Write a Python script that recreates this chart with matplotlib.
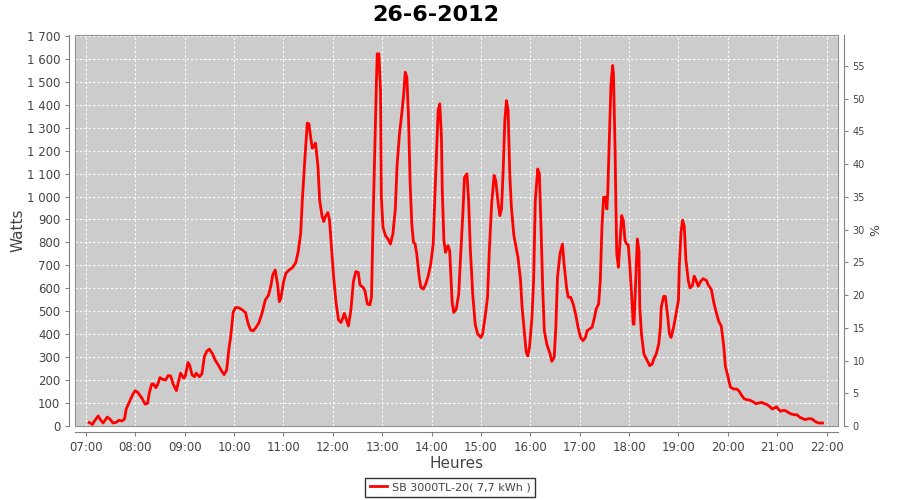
import matplotlib
matplotlib.use("Agg")
import matplotlib.pyplot as plt
from matplotlib.patches import Rectangle
from matplotlib.ticker import FuncFormatter

# ── data (time of day, watts) ────────────────────────────────────────────────
times = [
    "07:04", "07:08", "07:10", "07:15", "07:18", "07:21", "07:26", "07:29", "07:33", "07:37",
    "07:40", "07:44", "07:47", "07:49", "07:53", "07:57", "08:00", "08:03", "08:08", "08:12",
    "08:15", "08:17", "08:20", "08:22", "08:25", "08:27", "08:30", "08:33", "08:37", "08:40",
    "08:43", "08:46", "08:50", "08:52", "08:55", "08:59", "09:01", "09:04", "09:06", "09:09",
    "09:12", "09:14", "09:18", "09:21", "09:24", "09:27", "09:30", "09:34", "09:37", "09:41",
    "09:45", "09:48", "09:51", "09:54", "09:56", "09:59", "10:02", "10:06", "10:10", "10:14",
    "10:17", "10:20", "10:23", "10:26", "10:30", "10:34", "10:38", "10:42", "10:45", "10:47",
    "10:50", "10:53", "10:55", "10:57", "11:00", "11:03", "11:07", "11:11", "11:15", "11:18",
    "11:21", "11:23", "11:26", "11:29", "11:31", "11:33", "11:35", "11:37", "11:39", "11:42",
    "11:44", "11:47", "11:49", "11:51", "11:54", "11:56", "11:58", "12:01", "12:04", "12:07",
    "12:10", "12:12", "12:14", "12:16", "12:19", "12:22", "12:25", "12:28", "12:31", "12:33",
    "12:37", "12:39", "12:42", "12:45", "12:47", "12:49", "12:51", "12:53", "12:54", "12:56",
    "12:58", "12:59", "13:01", "13:04", "13:07", "13:10", "13:13", "13:16", "13:18", "13:21",
    "13:24", "13:26", "13:28", "13:30", "13:32", "13:34", "13:36", "13:38", "13:40", "13:42",
    "13:45", "13:47", "13:50", "13:53", "13:56", "13:59", "14:02", "14:04", "14:06", "14:08",
    "14:10", "14:12", "14:13", "14:15", "14:17", "14:20", "14:22", "14:23", "14:25", "14:27",
    "14:30", "14:33", "14:35", "14:38", "14:40", "14:43", "14:45", "14:47", "14:50", "14:53",
    "14:56", "15:00", "15:02", "15:05", "15:08", "15:10", "15:13", "15:16", "15:18", "15:21",
    "15:23", "15:25", "15:27", "15:29", "15:31", "15:33", "15:35", "15:37", "15:40", "15:42",
    "15:45", "15:48", "15:50", "15:53", "15:55", "15:57", "15:59", "16:02", "16:04", "16:06",
    "16:09", "16:11", "16:13", "16:15", "16:17", "16:20", "16:24", "16:26", "16:29", "16:31",
    "16:33", "16:36", "16:39", "16:41", "16:44", "16:46", "16:49", "16:52", "16:55", "16:58",
    "17:01", "17:04", "17:07", "17:09", "17:12", "17:15", "17:18", "17:20", "17:23", "17:25",
    "17:27", "17:29", "17:31", "17:33", "17:34", "17:36", "17:38", "17:40", "17:41", "17:43",
    "17:44", "17:45", "17:47", "17:49", "17:51", "17:53", "17:55", "17:57", "17:59", "18:01",
    "18:03", "18:05", "18:06", "18:08", "18:10", "18:12", "18:13", "18:15", "18:18", "18:21",
    "18:25", "18:28", "18:30", "18:33", "18:36", "18:38", "18:39", "18:42", "18:44", "18:47",
    "18:49", "18:51", "18:54", "18:57", "19:00", "19:01", "19:03", "19:05", "19:07", "19:09",
    "19:12", "19:14", "19:17", "19:19", "19:21", "19:24", "19:27", "19:30", "19:34", "19:36",
    "19:40", "19:43", "19:46", "19:49", "19:52", "19:55", "19:57", "20:00", "20:03", "20:07",
    "20:11", "20:14", "20:17", "20:20", "20:23", "20:27", "20:31", "20:34", "20:37", "20:41",
    "20:45", "20:48", "20:51", "20:54", "20:57", "20:59", "21:02", "21:04", "21:07", "21:10",
    "21:13", "21:17", "21:21", "21:24", "21:27", "21:31", "21:34", "21:38", "21:42", "21:46",
    "21:50", "21:55",
]
watts = [
    15, 7, 19, 44, 26, 13, 39, 31, 13, 16,
    25, 22, 31, 74, 106, 138, 154, 147, 122, 95,
    99, 143, 183, 183, 167, 179, 211, 204, 201, 220,
    218, 183, 154, 186, 230, 208, 220, 277, 266, 223,
    215, 230, 215, 227, 303, 326, 335, 314, 288, 265,
    239, 224, 243, 342, 390, 497, 517, 515, 506, 494,
    448, 419, 414, 426, 448, 491, 549, 571, 615, 658,
    680, 615, 542, 557, 625, 666, 680, 690, 712, 760,
    840, 985, 1160, 1320, 1317, 1262, 1211, 1218, 1233, 1131,
    985, 913, 891, 913, 930, 898, 797, 651, 535, 462,
    451, 469, 491, 469, 436, 506, 629, 673, 669, 615,
    603, 590, 532, 528, 560, 900, 1203, 1500, 1622, 1622,
    1462, 997, 866, 830, 815, 793, 837, 946, 1128, 1273,
    1367, 1440, 1542, 1520, 1346, 1055, 881, 801, 793, 750,
    648, 604, 597, 619, 655, 706, 793, 997, 1186, 1375,
    1404, 1258, 1026, 808, 757, 786, 764, 692, 539, 495,
    510, 575, 721, 924, 1084, 1099, 983, 779, 575, 444,
    401, 386, 401, 474, 561, 750, 968, 1092, 1070, 968,
    917, 946, 1113, 1331, 1418, 1375, 1099, 953, 830, 793,
    735, 640, 517, 401, 321, 306, 343, 474, 633, 982,
    1120, 1099, 866, 604, 415, 357, 314, 282, 299, 430,
    648, 750, 793, 706, 604, 561, 561, 532, 488, 430,
    386, 372, 386, 415, 423, 430, 474, 510, 532, 633,
    866, 997, 997, 946, 1012, 1244, 1491, 1571, 1535, 1200,
    953, 750, 692, 808, 917, 895, 808, 793, 790, 692,
    575, 444, 444, 633, 815, 764, 517, 401, 314, 292,
    263, 270, 292, 314, 357, 430, 517, 565, 565, 474,
    401, 386, 430, 488, 550, 696, 842, 897, 871, 725,
    631, 602, 612, 653, 638, 609, 631, 642, 634, 616,
    594, 536, 493, 456, 435, 347, 260, 217, 170, 161,
    161, 150, 132, 118, 115, 112, 105, 97, 100, 103,
    97, 92, 84, 74, 79, 84, 71, 64, 68, 67,
    60, 52, 49, 49, 39, 32, 28, 32, 31, 20,
    13, 13,
]
hour_ticks = list(range(7, 23))
watt_ticks = list(range(0, 1701, 100))
pct_ticks = list(range(0, 56, 5))
title = "26-6-2012"
series_label = "SB 3000TL-20( 7,7 kWh )"

hours = [int(t[:2]) + int(t[3:]) / 60 for t in times]

TXT = "#444444"
plt.rcParams["font.family"] = ["DejaVu Sans"]

fig = plt.figure(figsize=(9, 5), dpi=100)
fig.patch.set_facecolor("white")
ax = fig.add_axes([75 / 900, 74 / 500, 763 / 900, 391 / 500])
ax.set_facecolor("#cccccc")

ax.plot(hours, watts, color="#ff0000", lw=2.0, solid_joinstyle="round", label=series_label)

ax.set_xlim(6.78, 22.23)
ax.set_ylim(0, 1704)
ax.set_xticks(hour_ticks)
ax.set_xticklabels([f"{h:02d}:00" for h in hour_ticks])
ax.set_yticks(watt_ticks)
ax.yaxis.set_major_formatter(FuncFormatter(lambda v, p: f"{v:,.0f}".replace(",", " ")))
ax.grid(True, color="white", ls=(0, (2, 2)), lw=0.8)
ax.set_axisbelow(True)

for side in ("left", "bottom"):
    ax.spines[side].set_position(("outward", 4))
    ax.spines[side].set_color("#808080")
ax.spines["top"].set_visible(False)
ax.spines["right"].set_visible(False)
ax.add_patch(Rectangle((0, 0), 1, 1, transform=ax.transAxes, fill=False,
                       edgecolor="#909090", lw=0.8, clip_on=False))
ax.tick_params(axis="both", colors="#808080", labelcolor=TXT, labelsize=8.5, length=3)

ax.set_ylabel("Watts", fontsize=11, color=TXT, labelpad=1)
ax.set_xlabel("Heures", fontsize=11, color=TXT, labelpad=2)
fig.text(436 / 900, 1 - 15 / 500, title, ha="center", va="center",
         fontsize=16, fontweight="bold", color="black")

ax2 = ax.twinx()
ax2.set_ylim(0, 59.74)
ax2.set_yticks(pct_ticks)
ax2.spines["right"].set_position(("outward", 4))
ax2.spines["right"].set_color("#808080")
for side in ("left", "top", "bottom"):
    ax2.spines[side].set_visible(False)
ax2.tick_params(axis="y", colors="#808080", labelcolor=TXT, labelsize=7, length=3)
ax2.set_ylabel("%", fontsize=9, color=TXT, labelpad=3)

leg = fig.legend(loc="lower center", bbox_to_anchor=(0.5, 0.0), fontsize=8,
                 frameon=True, fancybox=False, handlelength=1.6, handletextpad=0.4,
                 borderpad=0.4, borderaxespad=0.3)
leg.get_frame().set_edgecolor("black")
leg.get_frame().set_linewidth(1.0)
for t in leg.get_texts():
    t.set_color(TXT)

fig.savefig("out.png", dpi=100)
